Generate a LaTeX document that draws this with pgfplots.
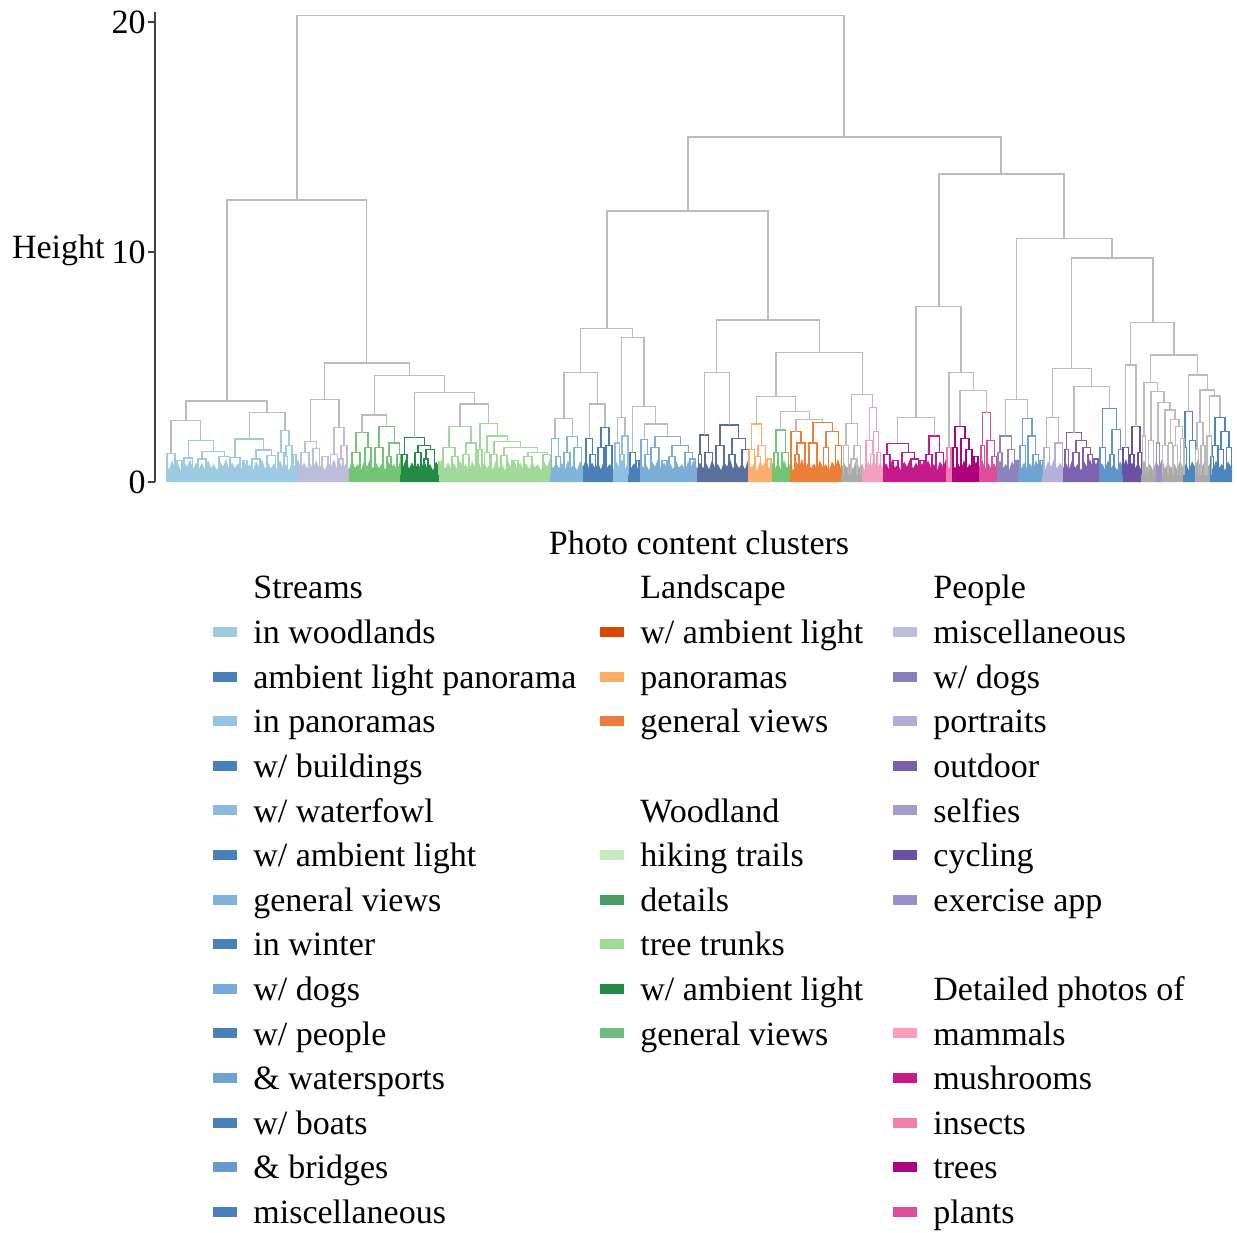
\documentclass[border=0pt]{standalone}
\usepackage{pgfplots}
\pgfplotsset{compat=1.18}
\usepackage{pgfplotstable}
\usepackage{fontspec}
\setmainfont{Liberation Serif}

\newcommand\lf{\fontsize{17}{20}\selectfont}

% branch colours
\definecolor{link}{HTML}{BBBBBB}
\definecolor{clgray}{HTML}{A9A9A9}
\definecolor{lbA}{HTML}{9ECAE1}
\definecolor{lavA}{HTML}{BCBDDC}
\definecolor{grA}{HTML}{74C476}
\definecolor{dgrA}{HTML}{238B45}
\definecolor{lgrA}{HTML}{A1D99B}
\definecolor{bmA}{HTML}{82B4DA}
\definecolor{dbA}{HTML}{4A7FB8}
\definecolor{lbB}{HTML}{90C0E0}
\definecolor{bC}{HTML}{7AAED6}
\definecolor{slA}{HTML}{5A6F9E}
\definecolor{loA}{HTML}{FDAE6B}
\definecolor{orA}{HTML}{EC7F38}
\definecolor{pkA}{HTML}{F59FBD}
\definecolor{mgA}{HTML}{C51B8A}
\definecolor{inA}{HTML}{EE7BAB}
\definecolor{trA}{HTML}{AE017E}
\definecolor{plA}{HTML}{DD4D9A}
\definecolor{dgA}{HTML}{8B84BF}
\definecolor{bD}{HTML}{6FA3D3}
\definecolor{ptA}{HTML}{B4B1D8}
\definecolor{odA}{HTML}{7D62AF}
\definecolor{bE}{HTML}{5E93CC}
\definecolor{cyA}{HTML}{6A51A3}
\definecolor{exA}{HTML}{9E8FC8}
\definecolor{bF}{HTML}{4B86C1}
% legend colours
\definecolor{sDark}{HTML}{4A80B8}
\definecolor{s1}{HTML}{9ECAE1}
\definecolor{s2}{HTML}{94C4E0}
\definecolor{s3}{HTML}{8BBBDC}
\definecolor{s4}{HTML}{81B3D9}
\definecolor{s5}{HTML}{77ABD5}
\definecolor{s6}{HTML}{6EA3D1}
\definecolor{s7}{HTML}{659CCD}
\definecolor{lA}{HTML}{D94801}
\definecolor{lB}{HTML}{FDAE6B}
\definecolor{lC}{HTML}{EE7D3C}
\definecolor{wA}{HTML}{C7E9C0}
\definecolor{wB}{HTML}{4A9E63}
\definecolor{wC}{HTML}{A1D99B}
\definecolor{wD}{HTML}{238B45}
\definecolor{wE}{HTML}{6DBB80}
\definecolor{pA}{HTML}{BCBDDC}
\definecolor{pB}{HTML}{8A7FBA}
\definecolor{pC}{HTML}{B0AED6}
\definecolor{pD}{HTML}{7A5FAD}
\definecolor{pE}{HTML}{A29DCC}
\definecolor{pF}{HTML}{6A51A3}
\definecolor{pG}{HTML}{9691C6}
\definecolor{dA}{HTML}{FA9FB5}
\definecolor{dB}{HTML}{C51B8A}
\definecolor{dC}{HTML}{EE7FAE}
\definecolor{dD}{HTML}{AE017E}
\definecolor{dE}{HTML}{DD4D9A}

% top profile of the densely packed leaves
\pgfplotstableread[row sep=\\]{
x y\\
166 0.82\\169 0.55\\172 0.95\\175 0.62\\178 0.78\\181 0.5\\184 0.9\\187 0.66\\190 1\\193 0.58\\196 0.85\\199 0.6\\
202 0.82\\205 0.55\\208 0.95\\211 0.62\\214 0.78\\217 0.5\\220 0.9\\223 0.66\\226 1\\229 0.58\\232 0.85\\235 0.6\\
238 0.82\\241 0.55\\244 0.95\\247 0.62\\250 0.78\\253 0.5\\256 0.9\\259 0.66\\262 1\\265 0.58\\268 0.85\\271 0.6\\
274 0.82\\277 0.55\\280 0.95\\283 0.62\\286 0.78\\289 0.5\\292 0.9\\295 0.66\\298 1\\301 0.58\\304 0.85\\307 0.6\\
310 0.82\\313 0.55\\316 0.95\\319 0.62\\322 0.78\\325 0.5\\328 0.9\\331 0.66\\334 1\\337 0.58\\340 0.85\\343 0.6\\
346 0.82\\349 0.55\\352 0.95\\355 0.62\\358 0.78\\361 0.5\\364 0.9\\367 0.66\\370 1\\373 0.58\\376 0.85\\379 0.6\\
382 0.82\\385 0.55\\388 0.95\\391 0.62\\394 0.78\\397 0.5\\400 0.9\\403 0.66\\406 1\\409 0.58\\412 0.85\\415 0.6\\
418 0.82\\421 0.55\\424 0.95\\427 0.62\\430 0.78\\433 0.5\\436 0.9\\439 0.66\\442 1\\445 0.58\\448 0.85\\451 0.6\\
454 0.82\\457 0.55\\460 0.95\\463 0.62\\466 0.78\\469 0.5\\472 0.9\\475 0.66\\478 1\\481 0.58\\484 0.85\\487 0.6\\
490 0.82\\493 0.55\\496 0.95\\499 0.62\\502 0.78\\505 0.5\\508 0.9\\511 0.66\\514 1\\517 0.58\\520 0.85\\523 0.6\\
526 0.82\\529 0.55\\532 0.95\\535 0.62\\538 0.78\\541 0.5\\544 0.9\\547 0.66\\550 1\\553 0.58\\556 0.85\\559 0.6\\
562 0.82\\565 0.55\\568 0.95\\571 0.62\\574 0.78\\577 0.5\\580 0.9\\583 0.66\\586 1\\589 0.58\\592 0.85\\595 0.6\\
598 0.82\\601 0.55\\604 0.95\\607 0.62\\610 0.78\\613 0.5\\616 0.9\\619 0.66\\622 1\\625 0.58\\628 0.85\\631 0.6\\
634 0.82\\637 0.55\\640 0.95\\643 0.62\\646 0.78\\649 0.5\\652 0.9\\655 0.66\\658 1\\661 0.58\\664 0.85\\667 0.6\\
670 0.82\\673 0.55\\676 0.95\\679 0.62\\682 0.78\\685 0.5\\688 0.9\\691 0.66\\694 1\\697 0.58\\700 0.85\\703 0.6\\
706 0.82\\709 0.55\\712 0.95\\715 0.62\\718 0.78\\721 0.5\\724 0.9\\727 0.66\\730 1\\733 0.58\\736 0.85\\739 0.6\\
742 0.82\\745 0.55\\748 0.95\\751 0.62\\754 0.78\\757 0.5\\760 0.9\\763 0.66\\766 1\\769 0.58\\772 0.85\\775 0.6\\
778 0.82\\781 0.55\\784 0.95\\787 0.62\\790 0.78\\793 0.5\\796 0.9\\799 0.66\\802 1\\805 0.58\\808 0.85\\811 0.6\\
814 0.82\\817 0.55\\820 0.95\\823 0.62\\826 0.78\\829 0.5\\832 0.9\\835 0.66\\838 1\\841 0.58\\844 0.85\\847 0.6\\
850 0.82\\853 0.55\\856 0.95\\859 0.62\\862 0.78\\865 0.5\\868 0.9\\871 0.66\\874 1\\877 0.58\\880 0.85\\883 0.6\\
886 0.82\\889 0.55\\892 0.95\\895 0.62\\898 0.78\\901 0.5\\904 0.9\\907 0.66\\910 1\\913 0.58\\916 0.85\\919 0.6\\
922 0.82\\925 0.55\\928 0.95\\931 0.62\\934 0.78\\937 0.5\\940 0.9\\943 0.66\\946 1\\949 0.58\\952 0.85\\955 0.6\\
958 0.82\\961 0.55\\964 0.95\\967 0.62\\970 0.78\\973 0.5\\976 0.9\\979 0.66\\982 1\\985 0.58\\988 0.85\\991 0.6\\
994 0.82\\997 0.55\\1000 0.95\\1003 0.62\\1006 0.78\\1009 0.5\\1012 0.9\\1015 0.66\\1018 1\\1021 0.58\\1024 0.85\\1027 0.6\\
1030 0.82\\1033 0.55\\1036 0.95\\1039 0.62\\1042 0.78\\1045 0.5\\1048 0.9\\1051 0.66\\1054 1\\1057 0.58\\1060 0.85\\1063 0.6\\
1066 0.82\\1069 0.55\\1072 0.95\\1075 0.62\\1078 0.78\\1081 0.5\\1084 0.9\\1087 0.66\\1090 1\\1093 0.58\\1096 0.85\\1099 0.6\\
1102 0.82\\1105 0.55\\1108 0.95\\1111 0.62\\1114 0.78\\1117 0.5\\1120 0.9\\1123 0.66\\1126 1\\1129 0.58\\1132 0.85\\1135 0.6\\
1138 0.82\\1141 0.55\\1144 0.95\\1147 0.62\\1150 0.78\\1153 0.5\\1156 0.9\\1159 0.66\\1162 1\\1165 0.58\\1168 0.85\\1171 0.6\\
1174 0.82\\1177 0.55\\1180 0.95\\1183 0.62\\1186 0.78\\1189 0.5\\1192 0.9\\1195 0.66\\1198 1\\1201 0.58\\1204 0.85\\1207 0.6\\
1210 0.82\\1213 0.55\\1216 0.95\\1219 0.62\\1222 0.78\\1225 0.5\\1228 0.9\\1231 0.66\\1232 0.7\\
}\leaves

% legend entry: x of swatch, row centre, colour, label
\newcommand\lgitem[4]{%
  \fill[#3] (#1,#2-5) rectangle ++(24,10);
  \node[anchor=mid west, inner sep=0pt, yshift=-3.5pt] at (#1+40,#2) {#4};}
\newcommand\lghead[3]{\node[anchor=mid west, inner sep=0pt, yshift=-3.5pt] at (#1,#2) {#3};}

\begin{document}
\begin{tikzpicture}
\path[use as bounding box] (0,0) rectangle (618.5pt,-616pt);
\begin{axis}[
  at={(77.5pt,-241pt)}, anchor=south west,
  width=541pt, height=234.945pt, scale only axis,
  xmin=155, xmax=1237, ymin=0, ymax=20.43,
  axis x line=none, axis y line=left,
  y axis line style={-, line width=0.6pt, draw=black!75},
  ytick={0,10,20}, tick align=outside, major tick length=3.5pt,
  ytick style={line width=0.6pt, draw=black!75},
  yticklabel style={font=\lf, inner sep=1pt},
  /pgf/number format/assume math mode=true,
  ylabel={Height},
  every axis y label/.style={at={(axis description cs:-0.0462,0.4767)}, anchor=base east, inner sep=0pt, font=\lf},
  clip=false,
  band/.style={draw=none, fill=#1, restrict x to domain=\dom, unbounded coords=discard},
  br/.style={draw=#1, line width=0.6pt, unbounded coords=jump, mark=none},
]
% dense leaves of each cluster
\def\dom{164.5:298.5}\addplot[band=lbA] table[x=x,y=y]{\leaves}\closedcycle;
\def\dom{295.5:349.5}\addplot[band=lavA] table[x=x,y=y]{\leaves}\closedcycle;
\def\dom{346.5:402.5}\addplot[band=grA] table[x=x,y=y]{\leaves}\closedcycle;
\def\dom{399.5:439.2}\addplot[band=dgrA] table[x=x,y=y]{\leaves}\closedcycle;
\def\dom{436.2:552.5}\addplot[band=lgrA] table[x=x,y=y]{\leaves}\closedcycle;
\def\dom{549.5:585.5}\addplot[band=bmA] table[x=x,y=y]{\leaves}\closedcycle;
\def\dom{582.5:614.5}\addplot[band=dbA] table[x=x,y=y]{\leaves}\closedcycle;
\def\dom{611.5:630.5}\addplot[band=lbB] table[x=x,y=y]{\leaves}\closedcycle;
\def\dom{627.5:641.5}\addplot[band=dbA] table[x=x,y=y]{\leaves}\closedcycle;
\def\dom{638.5:699.5}\addplot[band=bC] table[x=x,y=y]{\leaves}\closedcycle;
\def\dom{696.5:749.5}\addplot[band=slA] table[x=x,y=y]{\leaves}\closedcycle;
\def\dom{746.5:774.5}\addplot[band=loA] table[x=x,y=y]{\leaves}\closedcycle;
\def\dom{771.5:792.5}\addplot[band=grA] table[x=x,y=y]{\leaves}\closedcycle;
\def\dom{789.5:843.5}\addplot[band=orA] table[x=x,y=y]{\leaves}\closedcycle;
\def\dom{840.5:864.5}\addplot[band=clgray] table[x=x,y=y]{\leaves}\closedcycle;
\def\dom{861.5:883.5}\addplot[band=pkA] table[x=x,y=y]{\leaves}\closedcycle;
\def\dom{880.5:946.5}\addplot[band=mgA] table[x=x,y=y]{\leaves}\closedcycle;
\def\dom{943.5:953.5}\addplot[band=inA] table[x=x,y=y]{\leaves}\closedcycle;
\def\dom{950.5:981.5}\addplot[band=trA] table[x=x,y=y]{\leaves}\closedcycle;
\def\dom{978.5:998.5}\addplot[band=plA] table[x=x,y=y]{\leaves}\closedcycle;
\def\dom{995.5:1020.5}\addplot[band=dgA] table[x=x,y=y]{\leaves}\closedcycle;
\def\dom{1017.5:1044.5}\addplot[band=bD] table[x=x,y=y]{\leaves}\closedcycle;
\def\dom{1041.5:1065.5}\addplot[band=ptA] table[x=x,y=y]{\leaves}\closedcycle;
\def\dom{1062.5:1100.5}\addplot[band=odA] table[x=x,y=y]{\leaves}\closedcycle;
\def\dom{1097.5:1123.5}\addplot[band=bE] table[x=x,y=y]{\leaves}\closedcycle;
\def\dom{1120.5:1143.5}\addplot[band=cyA] table[x=x,y=y]{\leaves}\closedcycle;
\def\dom{1140.5:1158.5}\addplot[band=clgray] table[x=x,y=y]{\leaves}\closedcycle;
\def\dom{1155.5:1162.5}\addplot[band=exA] table[x=x,y=y]{\leaves}\closedcycle;
\def\dom{1159.5:1185.5}\addplot[band=clgray] table[x=x,y=y]{\leaves}\closedcycle;
\def\dom{1182.5:1196.5}\addplot[band=bF] table[x=x,y=y]{\leaves}\closedcycle;
\def\dom{1193.5:1210.5}\addplot[band=clgray] table[x=x,y=y]{\leaves}\closedcycle;
\def\dom{1207.5:1233}\addplot[band=bF] table[x=x,y=y]{\leaves}\closedcycle;

% branches inside the clusters
\addplot[br=lbA] coordinates {
(167,.3)(167,1.25)(175,1.25)(175,.3)(175,nan)
(188.3,1.04)(188.3,1.8)(213.1,1.8)(213.1,1.32)(213.1,nan)
(184,.3)(184,1.04)(192.6,1.04)(192.6,.3)(192.6,nan)
(202,1)(202,1.32)(224.2,1.32)(224.2,1.1)(224.2,nan)
(198,.3)(198,1)(206,1)(206,.3)(206,nan)
(219,.3)(219,1.1)(229.4,1.1)(229.4,.3)(229.4,nan)
(235,1.06)(235,1.87)(263.6,1.87)(263.6,1.39)(263.6,nan)
(230,.3)(230,1.06)(240,1.06)(240,.3)(240,nan)
(256,1)(256,1.39)(271.2,1.39)(271.2,1.15)(271.2,nan)
(252,.3)(252,1)(260,1)(260,.3)(260,nan)
(267,.3)(267,1.15)(275.4,1.15)(275.4,.3)(275.4,nan)
(281,1.3)(281,2.23)(289,2.23)(289,1.6)(289,nan)
(278,.3)(278,1.3)(284,1.3)(284,.3)(284,nan)
(286,1.1)(286,1.6)(292,1.6)(292,.3)(292,nan)
(284.5,.3)(284.5,1.1)(287.5,1.1)(287.5,.3)(287.5,nan)
(177,.3)(177,.95)(182,.95)(182,.3)(182,nan)
(243,.3)(243,.95)(247,.95)(247,.3)(247,nan)
(293,.3)(293,1.2)(296,1.2)(296,.3)(296,nan)
};
\addplot[br=lavA] coordinates {
(305,1.3)(305,1.75)(316.4,1.75)(316.4,1.45)(316.4,nan)
(301,.3)(301,1.3)(309,1.3)(309,.3)(309,nan)
(313,.3)(313,1.45)(319.8,1.45)(319.8,.3)(319.8,nan)
(334,1.2)(334,2.38)(344,2.38)(344,1.6)(344,nan)
(330.5,.3)(330.5,1.2)(337.5,1.2)(337.5,.3)(337.5,nan)
(341,1)(341,1.6)(347,1.6)(347,.3)(347,nan)
(339,.3)(339,1)(343,1)(343,.3)(343,nan)
(322,.3)(322,1.1)(328,1.1)(328,.3)(328,nan)
};
\addplot[br=grA] coordinates {
(356,1.3)(356,2.14)(368,2.14)(368,1.5)(368,nan)
(352,.3)(352,1.3)(360,1.3)(360,.3)(360,nan)
(365,.3)(365,1.5)(371,1.5)(371,.3)(371,nan)
(379,1.5)(379,2.4)(394.2,2.4)(394.2,1.7)(394.2,nan)
(375,.3)(375,1.5)(383,1.5)(383,.3)(383,nan)
(389,1.1)(389,1.7)(399.4,1.7)(399.4,1.2)(399.4,nan)
(387,.3)(387,1.1)(391,1.1)(391,.3)(391,nan)
(397,.3)(397,1.2)(401,1.2)(401,.3)(401,nan)
(776,1.3)(776,2.26)(785.4,2.26)(785.4,1.3)(785.4,nan)
(774,.3)(774,1.3)(778,1.3)(778,.3)(778,nan)
(782,.3)(782,1.3)(788.8,1.3)(788.8,.3)(788.8,nan)
};
\addplot[br=dgrA] coordinates {
(404.5,1.2)(404.5,1.93)(424.1,1.93)(424.1,1.6)(424.1,nan)
(402,.3)(402,1.2)(407,1.2)(407,.3)(407,nan)
(418,1.3)(418,1.6)(430.2,1.6)(430.2,1.4)(430.2,nan)
(415,.3)(415,1.3)(421,1.3)(421,.3)(421,nan)
(426,1)(426,1.4)(434.4,1.4)(434.4,.3)(434.4,nan)
(424,.3)(424,1)(428,1)(428,.3)(428,nan)
};
\addplot[br=lgrA] coordinates {
(449,1.5)(449,2.4)(471,2.4)(471,1.7)(471,nan)
(443,.3)(443,1.5)(455,1.5)(455,1.1)(455,nan)
(452,.3)(452,1.1)(458,1.1)(458,.3)(458,nan)
(466,1.2)(466,1.7)(476,1.7)(476,.3)(476,nan)
(463,.3)(463,1.2)(469,1.2)(469,.3)(469,nan)
(480,1.4)(480,2.55)(497.2,2.55)(497.2,2)(497.2,nan)
(478,.3)(478,1.4)(482,1.4)(482,.3)(482,nan)
(487,1.3)(487,2)(507.4,2)(507.4,1.75)(507.4,nan)
(484.5,.3)(484.5,1.3)(489.5,1.3)(489.5,.3)(489.5,nan)
(494,1.2)(494,1.75)(520.8,1.75)(520.8,1.5)(520.8,nan)
(491,.3)(491,1.2)(497,1.2)(497,.3)(497,nan)
(504,1.15)(504,1.5)(537.6,1.5)(537.6,1.3)(537.6,nan)
(501,.3)(501,1.15)(507,1.15)(507,.3)(507,nan)
(528,1.1)(528,1.3)(547.2,1.3)(547.2,1.2)(547.2,nan)
(524,.3)(524,1.1)(532,1.1)(532,.3)(532,nan)
(543,.3)(543,1.2)(551,1.2)(551,.3)(551,nan)
(439,.3)(439,.9)(442,.9)(442,.3)(442,nan)
(512,.3)(512,.95)(518,.95)(518,.3)(518,nan)
};
\addplot[br=bmA] coordinates {
(551.7,.3)(551.7,1.9)(558.3,1.9)(558.3,1.1)(558.3,nan)
(556,.3)(556,1.1)(560.6,1.1)(560.6,.3)(560.6,nan)
(567,1.3)(567,1.97)(577.6,1.97)(577.6,1.5)(577.6,nan)
(564,.3)(564,1.3)(570,1.3)(570,.3)(570,nan)
(574,.3)(574,1.5)(581.2,1.5)(581.2,.3)(581.2,nan)
};
\addplot[br=dbA] coordinates {
(586,.3)(586,1.9)(592.6,1.9)(592.6,1.2)(592.6,nan)
(590,.3)(590,1.2)(595.2,1.2)(595.2,.3)(595.2,nan)
(601,1.5)(601,2.38)(609,2.38)(609,1.6)(609,nan)
(598,.3)(598,1.5)(604,1.5)(604,.3)(604,nan)
(606,.3)(606,1.6)(612,1.6)(612,.3)(612,nan)
(630,.3)(630,1.28)(635.4,1.28)(635.4,.3)(635.4,nan)
(636,.3)(636,.95)(639,.95)(639,.3)(639,nan)
};
\addplot[br=lbB] coordinates {
(615,.3)(615,1.7)(619.6,1.7)(619.6,.3)(619.6,nan)
(622,1.2)(622,2)(628,2)(628,.3)(628,nan)
(620,.3)(620,1.2)(624,1.2)(624,.3)(624,nan)
};
\addplot[br=bC] coordinates {
(641,.3)(641,1.84)(647.6,1.84)(647.6,1.2)(647.6,nan)
(645,.3)(645,1.2)(650.2,1.2)(650.2,.3)(650.2,nan)
(655,1.5)(655,1.97)(680.4,1.97)(680.4,1.6)(680.4,nan)
(651,.3)(651,1.5)(659,1.5)(659,.3)(659,nan)
(672,1.1)(672,1.6)(688.8,1.6)(688.8,1.3)(688.8,nan)
(669,.3)(669,1.1)(675,1.1)(675,.3)(675,nan)
(685,.3)(685,1.3)(692.6,1.3)(692.6,1)(692.6,nan)
(690,.3)(690,1)(695.2,1)(695.2,.3)(695.2,nan)
(662,.3)(662,.95)(667,.95)(667,.3)(667,nan)
};
\addplot[br=slA] coordinates {
(700,1.2)(700,2.04)(708.6,2.04)(708.6,1.3)(708.6,nan)
(698.5,.3)(698.5,1.2)(701.5,1.2)(701.5,.3)(701.5,nan)
(705,.3)(705,1.3)(712.2,1.3)(712.2,.3)(712.2,nan)
(720,1.6)(720,2.48)(738.6,2.48)(738.6,1.9)(738.6,nan)
(716,.3)(716,1.6)(724,1.6)(724,.3)(724,nan)
(732,1.2)(732,1.9)(745.2,1.9)(745.2,1.4)(745.2,nan)
(729,.3)(729,1.2)(735,1.2)(735,.3)(735,nan)
(742,.3)(742,1.4)(748.4,1.4)(748.4,.3)(748.4,nan)
};
\addplot[br=loA] coordinates {
(751.7,1.4)(751.7,2.52)(761.7,2.52)(761.7,1.6)(761.7,nan)
(749,.3)(749,1.4)(754.4,1.4)(754.4,.3)(754.4,nan)
(758,1.1)(758,1.6)(765.4,1.6)(765.4,.3)(765.4,nan)
(755.5,.3)(755.5,1.1)(760.5,1.1)(760.5,.3)(760.5,nan)
(767,.3)(767,1)(771,1)(771,.3)(771,nan)
};
\addplot[br=orA] coordinates {
(791,.3)(791,2.19)(801,2.19)(801,1.7)(801,nan)
(797,1.2)(797,1.7)(805,1.7)(805,.3)(805,nan)
(795,.3)(795,1.2)(799,1.2)(799,.3)(799,nan)
(813,1.7)(813,2.6)(832.2,2.6)(832.2,2.19)(832.2,nan)
(809,.3)(809,1.7)(817,1.7)(817,.3)(817,nan)
(826,1.5)(826,2.19)(838.4,2.19)(838.4,1.6)(838.4,nan)
(823.5,.3)(823.5,1.5)(828.5,1.5)(828.5,.3)(828.5,nan)
(835.5,.3)(835.5,1.6)(841.3,1.6)(841.3,.3)(841.3,nan)
};
\addplot[br=pkA] coordinates {
(869.3,1.8)(869.3,3.25)(876.1,3.25)(876.1,2.2)(876.1,nan)
(866,.3)(866,1.8)(872.6,1.8)(872.6,1.2)(872.6,nan)
(870.5,.3)(870.5,1.2)(874.7,1.2)(874.7,.3)(874.7,nan)
(873.5,.3)(873.5,2.2)(878.7,2.2)(878.7,1.3)(878.7,nan)
(877,.3)(877,1.3)(880.4,1.3)(880.4,.3)(880.4,nan)
};
\addplot[br=mgA] coordinates {
(887,1.2)(887,1.68)(908.4,1.68)(908.4,1.3)(908.4,nan)
(884,.3)(884,1.2)(890,1.2)(890,.3)(890,nan)
(902,.3)(902,1.3)(914.8,1.3)(914.8,1)(914.8,nan)
(911,.3)(911,1)(918.6,1)(918.6,.3)(918.6,nan)
(929,1.2)(929,2)(939.6,2)(939.6,1.3)(939.6,nan)
(926,.3)(926,1.2)(932,1.2)(932,.3)(932,nan)
(936,.3)(936,1.3)(943.2,1.3)(943.2,.3)(943.2,nan)
(893,.3)(893,.95)(898,.95)(898,.3)(898,nan)
(920,.3)(920,.95)(924,.95)(924,.3)(924,nan)
};
\addplot[br=inA] coordinates {
(947,.3)(947,1.5)(951,1.5)(951,.3)(951,nan)
};
\addplot[br=trA] coordinates {
(955,1.5)(955,2.43)(965,2.43)(965,1.9)(965,nan)
(953,.3)(953,1.5)(957,1.5)(957,.3)(957,nan)
(961,.3)(961,1.9)(969,1.9)(969,1.4)(969,nan)
(966,.3)(966,1.4)(972,1.4)(972,.3)(972,nan)
(974,.3)(974,1.1)(978,1.1)(978,.3)(978,nan)
};
\addplot[br=plA] coordinates {
(982.6,1.6)(982.6,3.01)(990.6,3.01)(990.6,1.8)(990.6,nan)
(981,.3)(981,1.6)(984.2,1.6)(984.2,.3)(984.2,nan)
(987,.3)(987,1.8)(994.2,1.8)(994.2,1.1)(994.2,nan)
(992,.3)(992,1.1)(996.4,1.1)(996.4,.3)(996.4,nan)
};
\addplot[br=dgA] coordinates {
(1000,1.3)(1000,2)(1011.4,2)(1011.4,1.4)(1011.4,nan)
(998,.3)(998,1.3)(1002,1.3)(1002,.3)(1002,nan)
(1008,.3)(1008,1.4)(1014.8,1.4)(1014.8,.3)(1014.8,nan)
(1016,.3)(1016,.95)(1018.5,.95)(1018.5,.3)(1018.5,nan)
};
\addplot[br=bD] coordinates {
(1022.7,1.6)(1022.7,2.77)(1031.9,2.77)(1031.9,2)(1031.9,nan)
(1020,.3)(1020,1.6)(1025.4,1.6)(1025.4,.3)(1025.4,nan)
(1028,.3)(1028,2)(1035.8,2)(1035.8,1.2)(1035.8,nan)
(1033,.3)(1033,1.2)(1038.6,1.2)(1038.6,.3)(1038.6,nan)
(1040,.3)(1040,.95)(1042.5,.95)(1042.5,.3)(1042.5,nan)
};
\addplot[br=ptA] coordinates {
(1046.7,1.5)(1046.7,2.81)(1058.7,2.81)(1058.7,1.7)(1058.7,nan)
(1044,.3)(1044,1.5)(1049.4,1.5)(1049.4,.3)(1049.4,nan)
(1055,.3)(1055,1.7)(1062.4,1.7)(1062.4,.3)(1062.4,nan)
};
\addplot[br=odA] coordinates {
(1066.7,1.4)(1066.7,2.14)(1081.3,2.14)(1081.3,1.8)(1081.3,nan)
(1065,.3)(1065,1.4)(1068.4,1.4)(1068.4,.3)(1068.4,nan)
(1076,1.3)(1076,1.8)(1086.6,1.8)(1086.6,1.5)(1086.6,nan)
(1073,.3)(1073,1.3)(1079,1.3)(1079,.3)(1079,nan)
(1083,.3)(1083,1.5)(1090.2,1.5)(1090.2,1.2)(1090.2,nan)
(1088,.3)(1088,1.2)(1092.4,1.2)(1092.4,.3)(1092.4,nan)
(1094,.3)(1094,1)(1098,1)(1098,.3)(1098,nan)
};
\addplot[br=bE] coordinates {
(1102.6,1.5)(1102.6,3.2)(1116.2,3.2)(1116.2,2.3)(1116.2,nan)
(1100,.3)(1100,1.5)(1105.2,1.5)(1105.2,.3)(1105.2,nan)
(1112,1.2)(1112,2.3)(1120.4,2.3)(1120.4,1.4)(1120.4,nan)
(1110,.3)(1110,1.2)(1114,1.2)(1114,.3)(1114,nan)
(1118.5,.3)(1118.5,1.4)(1122.3,1.4)(1122.3,.3)(1122.3,nan)
};
\addplot[br=cyA] coordinates {
(1123,.3)(1123,1.5)(1128.4,1.5)(1128.4,.3)(1128.4,nan)
(1132,1.2)(1132,2.4)(1140,2.4)(1140,1.3)(1140,nan)
(1130,.3)(1130,1.2)(1134,1.2)(1134,.3)(1134,nan)
(1138,.3)(1138,1.3)(1142,1.3)(1142,.3)(1142,nan)
};
\addplot[br=exA] coordinates {
(1156.5,.3)(1156.5,1.7)(1159.5,1.7)(1159.5,.3)(1159.5,nan)
};
\addplot[br=bF] coordinates {
(1185,1.5)(1185,3.06)(1192.3,3.06)(1192.3,1.8)(1192.3,nan)
(1184.3,.3)(1184.3,1.5)(1186.3,1.5)(1186.3,.3)(1186.3,nan)
(1189.5,.3)(1189.5,1.8)(1195.1,1.8)(1195.1,.3)(1195.1,nan)
(1215,1.6)(1215,2.81)(1225,2.81)(1225,2.2)(1225,nan)
(1212,1.1)(1212,1.6)(1218,1.6)(1218,.3)(1218,nan)
(1210.5,.3)(1210.5,1.1)(1213.5,1.1)(1213.5,.3)(1213.5,nan)
(1221,1.4)(1221,2.2)(1229,2.2)(1229,1.5)(1229,nan)
(1218.5,.3)(1218.5,1.4)(1223.5,1.4)(1223.5,.3)(1223.5,nan)
(1226.5,.3)(1226.5,1.5)(1231.5,1.5)(1231.5,.3)(1231.5,nan)
};

% merges between clusters
\addplot[br=link] coordinates {
(297,12.26)(297,20.3)(844,20.3)(844,15)(844,nan)
(227,3.52)(227,12.26)(366.8,12.26)(366.8,5.17)(366.8,nan)
(186,2.67)(186,3.52)(267,3.52)(267,3.03)(267,nan)
(171,1.25)(171,2.67)(200.7,2.67)(200.7,1.8)(200.7,nan)
(249.3,1.87)(249.3,3.03)(285,3.03)(285,2.23)(285,nan)
(324.3,3.57)(324.3,5.17)(409.3,5.17)(409.3,4.62)(409.3,nan)
(310.7,1.75)(310.7,3.57)(339,3.57)(339,2.38)(339,nan)
(374.3,2.91)(374.3,4.62)(444.3,4.62)(444.3,3.9)(444.3,nan)
(362,2.14)(362,2.91)(386.6,2.91)(386.6,2.4)(386.6,nan)
(414.3,1.93)(414.3,3.9)(474.3,3.9)(474.3,3.39)(474.3,nan)
(460,2.4)(460,3.39)(488.6,3.39)(488.6,2.55)(488.6,nan)
(688,11.78)(688,15)(1001,15)(1001,13.39)(1001,nan)
(607,6.68)(607,11.78)(768,11.78)(768,7.04)(768,nan)
(580.7,4.75)(580.7,6.68)(632.7,6.68)(632.7,6.29)(632.7,nan)
(564,2.77)(564,4.75)(597.3,4.75)(597.3,3.39)(597.3,nan)
(555,1.9)(555,2.77)(572.3,2.77)(572.3,1.97)(572.3,nan)
(589.3,1.9)(589.3,3.39)(605,3.39)(605,2.38)(605,nan)
(621.7,2.81)(621.7,6.29)(644,6.29)(644,3.28)(644,nan)
(617.3,1.7)(617.3,2.81)(625,2.81)(625,2)(625,nan)
(632.7,1.28)(632.7,3.28)(655.7,3.28)(655.7,2.52)(655.7,nan)
(644.3,1.84)(644.3,2.52)(667.7,2.52)(667.7,1.97)(667.7,nan)
(716.7,4.75)(716.7,7.04)(819.3,7.04)(819.3,5.62)(819.3,nan)
(704.3,2.04)(704.3,4.75)(729.3,4.75)(729.3,2.48)(729.3,nan)
(776,3.71)(776,5.62)(862.3,5.62)(862.3,3.81)(862.3,nan)
(756.7,2.52)(756.7,3.71)(795.7,3.71)(795.7,3.06)(795.7,nan)
(780.7,2.26)(780.7,3.06)(809.3,3.06)(809.3,2.72)(809.3,nan)
(796,2.19)(796,2.72)(822.6,2.72)(822.6,2.6)(822.6,nan)
(851.7,2.55)(851.7,3.81)(872.7,3.81)(872.7,3.25)(872.7,nan)
(846,1.6)(846,2.55)(857.4,2.55)(857.4,1.6)(857.4,nan)
(843.5,.3)(843.5,1.6)(848.5,1.6)(848.5,.3)(848.5,nan)
(854,1)(854,1.6)(860.8,1.6)(860.8,.3)(860.8,nan)
(851,.3)(851,1)(857,1)(857,.3)(857,nan)
(939,7.62)(939,13.39)(1064,13.39)(1064,10.6)(1064,nan)
(916,2.81)(916,7.62)(961,7.62)(961,4.75)(961,nan)
(897.7,1.68)(897.7,2.81)(934.3,2.81)(934.3,2)(934.3,nan)
(949,1.5)(949,4.75)(973.3,4.75)(973.3,3.97)(973.3,nan)
(960,2.43)(960,3.97)(986.6,3.97)(986.6,3.01)(986.6,nan)
(1016.7,3.57)(1016.7,10.6)(1112,10.6)(1112,9.74)(1112,nan)
(1005.7,2)(1005.7,3.57)(1027.3,3.57)(1027.3,2.77)(1027.3,nan)
(1071.7,4.94)(1071.7,9.74)(1153,9.74)(1153,6.93)(1153,nan)
(1052.7,2.81)(1052.7,4.94)(1091.7,4.94)(1091.7,4.14)(1091.7,nan)
(1074,2.14)(1074,4.14)(1109.4,4.14)(1109.4,3.2)(1109.4,nan)
(1130.7,5.09)(1130.7,6.93)(1174,6.93)(1174,5.52)(1174,nan)
(1125.7,1.5)(1125.7,5.09)(1136,5.09)(1136,2.4)(1136,nan)
(1150.7,4.32)(1150.7,5.52)(1197.5,5.52)(1197.5,4.65)(1197.5,nan)
(1144,2)(1144,4.32)(1157.5,4.32)(1157.5,3.93)(1157.5,nan)
(1151,1.8)(1151,3.93)(1164,3.93)(1164,3.45)(1164,nan)
(1158,1.7)(1158,3.45)(1170,3.45)(1170,3.13)(1170,nan)
(1165,1.6)(1165,3.13)(1175,3.13)(1175,2.72)(1175,nan)
(1170.5,1.7)(1170.5,2.72)(1179,2.72)(1179,2.4)(1179,nan)
(1175.5,1.6)(1175.5,2.4)(1182.5,2.4)(1182.5,1.9)(1182.5,nan)
(1142.5,.3)(1142.5,2)(1145.5,2)(1145.5,.3)(1145.5,nan)
(1148.5,.3)(1148.5,1.8)(1153.5,1.8)(1153.5,.3)(1153.5,nan)
(1162.5,.3)(1162.5,1.6)(1167.5,1.6)(1167.5,.3)(1167.5,nan)
(1168.5,.3)(1168.5,1.7)(1172.5,1.7)(1172.5,.3)(1172.5,nan)
(1173.5,.3)(1173.5,1.6)(1177.5,1.6)(1177.5,.3)(1177.5,nan)
(1180.5,.3)(1180.5,1.9)(1184,1.9)(1184,.3)(1184,nan)
(1188.3,3.06)(1188.3,4.65)(1207.1,4.65)(1207.1,4)(1207.1,nan)
(1200,2.59)(1200,4)(1214.3,4)(1214.3,3.74)(1214.3,nan)
(1197,1.4)(1197,2.59)(1203,2.59)(1203,1.6)(1203,nan)
(1195.5,.3)(1195.5,1.4)(1198.5,1.4)(1198.5,.3)(1198.5,nan)
(1201,.3)(1201,1.6)(1205,1.6)(1205,.3)(1205,nan)
(1209.3,2)(1209.3,3.74)(1220,3.74)(1220,2.81)(1220,nan)
(1207,.3)(1207,2)(1211.5,2)(1211.5,.3)(1211.5,nan)
};
\end{axis}

% legend
\begin{scope}[x=0.5pt, y=-0.5pt, font=\lf]
\node[anchor=mid, inner sep=0pt, yshift=-3.5pt] at (699,542.8) {Photo content clusters};
\lghead{253}{587.4}{Streams}
\lgitem{213}{632.0}{s1}{in woodlands}
\lgitem{213}{676.6}{sDark}{ambient light panorama}
\lgitem{213}{721.2}{s2}{in panoramas}
\lgitem{213}{765.8}{sDark}{w/ buildings}
\lgitem{213}{810.4}{s3}{w/ waterfowl}
\lgitem{213}{855.0}{sDark}{w/ ambient light}
\lgitem{213}{899.6}{s4}{general views}
\lgitem{213}{944.2}{sDark}{in winter}
\lgitem{213}{988.8}{s5}{w/ dogs}
\lgitem{213}{1033.4}{sDark}{w/ people}
\lgitem{213}{1078.0}{s6}{\& watersports}
\lgitem{213}{1122.6}{sDark}{w/ boats}
\lgitem{213}{1167.2}{s7}{\& bridges}
\lgitem{213}{1211.8}{sDark}{miscellaneous}
\lghead{640}{587.4}{Landscape}
\lgitem{600}{632.0}{lA}{w/ ambient light}
\lgitem{600}{676.6}{lB}{panoramas}
\lgitem{600}{721.2}{lC}{general views}
\lghead{640}{810.4}{Woodland}
\lgitem{600}{855.0}{wA}{hiking trails}
\lgitem{600}{899.6}{wB}{details}
\lgitem{600}{944.2}{wC}{tree trunks}
\lgitem{600}{988.8}{wD}{w/ ambient light}
\lgitem{600}{1033.4}{wE}{general views}
\lghead{933}{587.4}{People}
\lgitem{893}{632.0}{pA}{miscellaneous}
\lgitem{893}{676.6}{pB}{w/ dogs}
\lgitem{893}{721.2}{pC}{portraits}
\lgitem{893}{765.8}{pD}{outdoor}
\lgitem{893}{810.4}{pE}{selfies}
\lgitem{893}{855.0}{pF}{cycling}
\lgitem{893}{899.6}{pG}{exercise app}
\lghead{933}{988.8}{Detailed photos of}
\lgitem{893}{1033.4}{dA}{mammals}
\lgitem{893}{1078.0}{dB}{mushrooms}
\lgitem{893}{1122.6}{dC}{insects}
\lgitem{893}{1167.2}{dD}{trees}
\lgitem{893}{1211.8}{dE}{plants}
\end{scope}
\end{tikzpicture}
\end{document}
